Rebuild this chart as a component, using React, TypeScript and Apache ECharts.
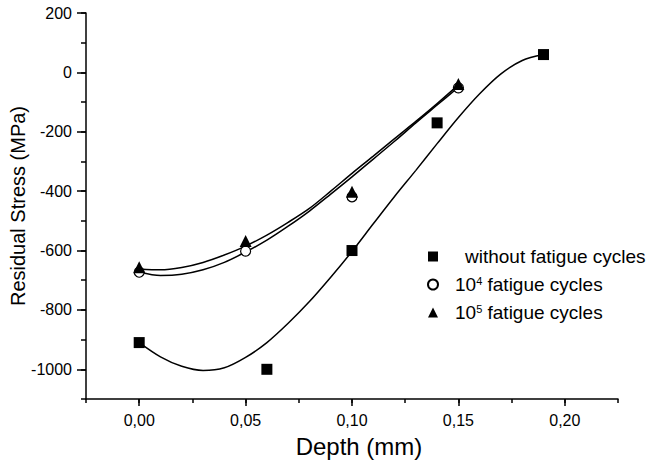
import React, { useEffect, useRef } from "react";
import * as echarts from "echarts";

// ---- data ----
const seriesNames = ["without fatigue cycles", "10^4 fatigue cycles", "10^5 fatigue cycles"];
const legendLabels = ["{padW|}without fatigue cycles", "{pad|}10{sup|4} fatigue cycles", "{pad|}10{sup|5} fatigue cycles"];

const depthSquares = [0, 0.06, 0.1, 0.14, 0.19];
const stressSquares = [-910, -1000, -600, -170, 60];

const depthOpen = [0, 0.05, 0.1, 0.15];
const stressCircles = [-673, -602, -419, -52];
const stressTriangles = [-656, -568, -402, -39];

// fitted curves
const fitDepthLong = [0, 0.01, 0.02, 0.03, 0.04, 0.05, 0.06, 0.07, 0.08, 0.09, 0.1, 0.11, 0.12, 0.13, 0.14, 0.15, 0.16, 0.17, 0.18, 0.19];
const fitSquares = [-910, -958, -990, -1004, -995, -960, -910, -845, -772, -690, -603, -510, -418, -330, -240, -152, -72, -5, 40, 60];

const fitDepthShort = [0, 0.01, 0.02, 0.03, 0.04, 0.05, 0.06, 0.07, 0.08, 0.09, 0.1, 0.11, 0.12, 0.13, 0.14, 0.15];
const fitCircles = [-672, -684, -680, -665, -640, -605, -565, -518, -467, -410, -352, -292, -232, -170, -110, -50];
const fitTriangles = [-662, -665, -657, -640, -615, -585, -548, -505, -458, -400, -340, -282, -223, -165, -105, -42];

const xMajorTicks = [0, 0.05, 0.1, 0.15, 0.2];
const xTickLabels = ["0,00", "0,05", "0,10", "0,15", "0,20"];
const yMajorTicks = [-1000, -800, -600, -400, -200, 0, 200];
const yTickLabels = ["-1000", "-800", "-600", "-400", "-200", "0", "200"];

const zip = (xs: number[], ys: number[]) => xs.map((x, i) => [x, ys[i]]);
const nearestLabel = (v: number, ticks: number[], labels: string[]) => {
  let best = 0;
  ticks.forEach((t, i) => {
    if (Math.abs(t - v) < Math.abs(ticks[best] - v)) best = i;
  });
  return labels[best];
};

export default function App() {
  const ref = useRef<HTMLDivElement>(null);
  useEffect(() => {
    const chart = echarts.init(ref.current!, null, { renderer: "svg" });
    const font = "'Liberation Sans', Arial, sans-serif";
    const black = "#000";
    const lineFit = (data: number[][]) => ({
      type: "line",
      data,
      xAxisIndex: 0,
      yAxisIndex: 0,
      showSymbol: false,
      symbol: "none",
      smooth: 0.3,
      silent: true,
      z: 2,
      lineStyle: { color: black, width: 1.5 },
    });
    chart.setOption({
      animation: false,
      backgroundColor: "#fff",
      textStyle: { fontFamily: font },
      grid: { left: 86, right: 34, top: 13, bottom: 66, containLabel: false, outerBoundsMode: "none" },
      xAxis: [
        {
          type: "value",
          min: -0.025,
          max: 0.225,
          position: "bottom",
          name: "Depth (mm)",
          nameLocation: "middle",
          nameGap: 35,
          nameMoveOverlap: false,
          nameTextStyle: { color: black, fontSize: 24, fontFamily: font, padding: [0, 0, 0, 14] },
          axisLine: { onZero: false, lineStyle: { color: black, width: 1.5 } },
          axisTick: { customValues: xMajorTicks, length: 7, lineStyle: { color: black, width: 1.5 } },
          axisLabel: {
            customValues: xMajorTicks,
            margin: 13,
            color: black,
            fontSize: 16,
            fontFamily: font,
            formatter: (v: number) => nearestLabel(v, xMajorTicks, xTickLabels),
          },
          splitLine: { show: false },
        },
        {
          type: "value",
          min: -0.025,
          max: 0.225,
          interval: 0.025,
          position: "bottom",
          axisLine: { show: false, onZero: false },
          axisTick: { length: 4, lineStyle: { color: black, width: 1.5 } },
          axisLabel: { show: false },
          splitLine: { show: false },
        },
      ],
      yAxis: [
        {
          type: "value",
          min: -1100,
          max: 200,
          position: "left",
          name: "Residual Stress (MPa)",
          nameLocation: "middle",
          nameGap: 58,
          nameMoveOverlap: false,
          nameTextStyle: { color: black, fontSize: 20, fontFamily: font },
          axisLine: { show: true, onZero: false, lineStyle: { color: black, width: 1.5 } },
          axisTick: { show: true, customValues: yMajorTicks, length: 9, lineStyle: { color: black, width: 1.5 } },
          axisLabel: {
            customValues: yMajorTicks,
            margin: 14,
            color: black,
            fontSize: 16,
            fontFamily: font,
            formatter: (v: number) => nearestLabel(v, yMajorTicks, yTickLabels),
          },
          splitLine: { show: false },
        },
        {
          type: "value",
          min: -1100,
          max: 200,
          interval: 100,
          position: "left",
          axisLine: { show: false, onZero: false },
          axisTick: { show: true, length: 5, lineStyle: { color: black, width: 1.5 } },
          axisLabel: { show: false },
          splitLine: { show: false },
        },
      ],
      legend: {
        orient: "vertical",
        left: 422,
        top: 242,
        itemWidth: 10,
        itemHeight: 10,
        itemGap: 9,
        data: seriesNames,
        formatter: (name: string) => legendLabels[seriesNames.indexOf(name)],
        textStyle: {
          color: black,
          fontSize: 19,
          fontFamily: font,
          lineHeight: 19,
          rich: {
            padW: { width: 22 },
            pad: { width: 12 },
            sup: { fontSize: 11, verticalAlign: "top", lineHeight: 12 },
          },
        },
      },
      series: [
        lineFit(zip(fitDepthLong, fitSquares)),
        lineFit(zip(fitDepthShort, fitCircles)),
        lineFit(zip(fitDepthShort, fitTriangles)),
        {
          name: seriesNames[0],
          type: "scatter",
          data: zip(depthSquares, stressSquares),
          symbol: "rect",
          symbolSize: 11,
          itemStyle: { color: black, opacity: 1 },
          z: 4,
        },
        {
          name: seriesNames[1],
          type: "scatter",
          data: zip(depthOpen, stressCircles),
          symbol: "circle",
          symbolSize: 10,
          itemStyle: { color: "#fff", borderColor: black, borderWidth: 1.2, opacity: 1 },
          z: 4,
        },
        {
          name: seriesNames[2],
          type: "scatter",
          data: zip(depthOpen, stressTriangles),
          symbol: "triangle",
          symbolSize: 12,
          itemStyle: { color: black, opacity: 1 },
          z: 5,
        },
      ],
    });
    return () => chart.dispose();
  }, []);
  return (
    <div
      ref={ref}
      style={{ position: "fixed", left: 0, top: 0, width: 652, height: 465, background: "#fff" }}
    />
  );
}
